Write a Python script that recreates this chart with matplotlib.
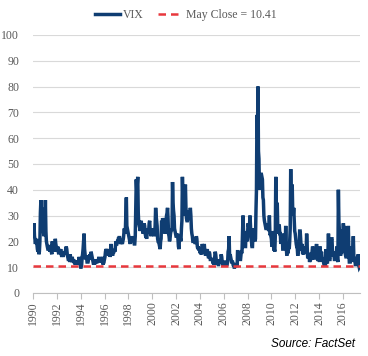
import matplotlib
matplotlib.use("Agg")
import matplotlib.pyplot as plt
import matplotlib.dates as mdates
import pandas as pd
import numpy as np

# Semi-monthly VIX readings (mid-month, month-end), Jan 1990 - May 2017
vix_1990s = [
    # 1990
    24, 27, 22, 21, 19, 20, 21, 19, 17, 16, 17, 15, 16, 20, 31, 36, 28, 33, 30, 28, 24, 22, 23, 24,
    # 1991
    36, 24, 20, 19, 18, 17, 17, 18, 18, 16, 17, 18, 16, 15, 20, 16, 17, 16, 18, 16, 21, 19, 18, 16,
    # 1992
    17, 18, 16, 15, 17, 16, 16, 17, 15, 14, 15, 16, 14, 15, 16, 15, 16, 17, 18, 17, 15, 14, 13, 13,
    # 1993
    14, 12, 15, 13, 13, 12, 14, 13, 12, 13, 12, 12, 11, 12, 12, 11, 12, 12, 11, 12, 14, 12, 11, 10,
    # 1994
    10, 11, 14, 15, 17, 20, 23, 17, 15, 13, 14, 14, 12, 12, 12, 13, 14, 14, 15, 13, 16, 15, 14, 13,
    # 1995
    12, 11, 12, 11, 12, 13, 12, 12, 12, 13, 12, 13, 14, 12, 13, 12, 13, 12, 13, 14, 11, 12, 12, 13,
    # 1996
    14, 16, 17, 16, 17, 16, 16, 15, 15, 16, 14, 15, 19, 17, 16, 15, 15, 16, 16, 17, 16, 18, 20, 19,
    # 1997
    19, 20, 20, 21, 21, 22, 21, 20, 19, 20, 20, 19, 20, 21, 23, 25, 23, 24, 31, 37, 26, 25, 24, 23,
    # 1998
    22, 21, 20, 19, 21, 20, 22, 21, 20, 21, 20, 19, 19, 22, 33, 44, 40, 42, 45, 31, 27, 26, 26, 24,
    # 1999
    27, 28, 25, 26, 24, 23, 25, 27, 26, 23, 22, 22, 21, 23, 24, 25, 24, 27, 28, 24, 23, 22, 24, 25,
]
vix_2000s = [
    # 2000
    24, 25, 23, 22, 23, 26, 33, 30, 28, 26, 21, 20, 20, 19, 18, 17, 20, 21, 28, 26, 29, 28, 27, 26,
    # 2001
    24, 23, 26, 28, 30, 31, 33, 29, 23, 22, 20, 21, 23, 24, 25, 24, 43, 35, 32, 30, 25, 24, 23, 22,
    # 2002
    22, 22, 23, 21, 18, 17, 21, 22, 21, 20, 25, 28, 45, 36, 32, 30, 38, 40, 42, 33, 29, 28, 28, 29,
    # 2003
    30, 32, 31, 30, 33, 30, 25, 23, 22, 20, 20, 21, 21, 20, 19, 20, 22, 21, 18, 17, 18, 17, 17, 16,
    # 2004
    16, 15, 16, 15, 19, 17, 17, 16, 19, 16, 15, 15, 15, 16, 17, 15, 14, 14, 16, 15, 13, 13, 13, 13,
    # 2005
    13, 12, 12, 11, 13, 14, 16, 15, 13, 12, 11, 12, 11, 11, 12, 13, 12, 12, 15, 14, 12, 11, 11, 12,
    # 2006
    12, 12, 12, 11, 11, 11, 11, 12, 16, 17, 22, 14, 15, 14, 13, 12, 12, 12, 11, 11, 10, 10, 11, 11,
    # 2007
    11, 11, 10, 16, 16, 14, 13, 13, 13, 13, 15, 16, 16, 23, 30, 24, 20, 18, 18, 18, 24, 22, 20, 22,
    # 2008
    27, 26, 25, 26, 30, 26, 21, 20, 18, 18, 23, 24, 25, 22, 20, 21, 32, 40, 69, 60, 80, 55, 52, 40,
    # 2009
    46, 45, 46, 46, 45, 44, 37, 36, 30, 28, 27, 26, 25, 25, 27, 26, 25, 25, 24, 30, 23, 23, 22, 21,
]
vix_2010s = [
    # 2010
    18, 24, 22, 19, 17, 17, 16, 22, 45, 32, 35, 34, 25, 23, 26, 26, 23, 23, 19, 21, 20, 23, 17, 17,
    # 2011
    18, 19, 17, 18, 26, 18, 15, 15, 16, 16, 19, 17, 20, 25, 48, 32, 38, 42, 32, 30, 33, 28, 24, 23,
    # 2012
    21, 19, 18, 18, 15, 15, 18, 17, 24, 24, 21, 17, 17, 19, 15, 17, 15, 16, 17, 18, 16, 16, 23, 18,
    # 2013
    14, 14, 15, 15, 12, 13, 13, 14, 13, 16, 18, 17, 14, 13, 15, 17, 15, 17, 19, 14, 13, 13, 15, 14,
    # 2014
    12, 18, 15, 14, 16, 14, 13, 13, 12, 11, 11, 11, 11, 17, 13, 12, 12, 16, 23, 15, 13, 13, 19, 19,
    # 2015
    21, 21, 16, 14, 16, 15, 13, 13, 13, 14, 15, 18, 13, 12, 40, 28, 24, 24, 15, 15, 16, 16, 23, 18,
    # 2016
    27, 20, 26, 20, 15, 14, 14, 15, 15, 14, 26, 16, 12, 12, 12, 13, 18, 13, 16, 17, 22, 14, 12, 14,
    # 2017 (Jan - May)
    11, 11, 12, 12, 12, 13, 15, 11, 10, 10.4,
]
may_close = 10.41
series_labels = ["VIX", "May Close = 10.41"]
x_tick_years = list(range(1990, 2017, 2))
y_ticks = list(range(0, 101, 10))

vix = vix_1990s + vix_2000s + vix_2010s
dates = pd.date_range("1990-01-15", periods=len(vix), freq="SME")

navy = "#0F3D72"
red = "#E8383D"

fig = plt.figure(figsize=(3.68, 3.56), dpi=100)
ax = fig.add_axes([0.0897, 0.177, 0.888, 0.725])

ax.plot(dates, vix, color=navy, lw=2.5, solid_joinstyle="miter", label=series_labels[0], zorder=3)
ax.axhline(may_close, color=red, lw=1.8, ls=(0, (3, 2)), label=series_labels[1], zorder=4)

ax.set_ylim(0, 100)
ax.set_xlim(pd.Timestamp("1990-01-01"), pd.Timestamp("2017-06-01"))
ax.set_yticks(y_ticks)
ax.set_xticks([pd.Timestamp(f"{y}-01-01") for y in x_tick_years])
ax.xaxis.set_major_formatter(mdates.DateFormatter("%Y"))

ax.grid(axis="y", color="#D9D9D9", lw=0.8)
ax.set_axisbelow(True)
for s in ["left", "right", "top"]:
    ax.spines[s].set_visible(False)
ax.spines["bottom"].set_color("#BFBFBF")
ax.spines["bottom"].set_linewidth(0.8)
ax.tick_params(axis="y", length=0, pad=10, labelsize=8.5, labelcolor="#595959")
ax.tick_params(axis="x", length=4, color="#BFBFBF", width=0.8, labelsize=8.5,
               labelcolor="#595959", rotation=90, pad=2)
for lab in ax.get_xticklabels() + ax.get_yticklabels():
    lab.set_fontfamily("Liberation Serif")

leg = fig.legend(loc="center", bbox_to_anchor=(0.505, 0.958), ncol=2, frameon=False,
                 prop={"family": "Liberation Serif", "size": 8.5}, handlelength=2.1,
                 columnspacing=1.2, handletextpad=0.3)
for t in leg.get_texts():
    t.set_color("#595959")

fig.text(0.965, 0.035, "Source: FactSet", ha="right", va="center", style="italic",
         fontsize=8.5, family="Liberation Sans", color="#000000")

fig.savefig("out.png", dpi=100)
